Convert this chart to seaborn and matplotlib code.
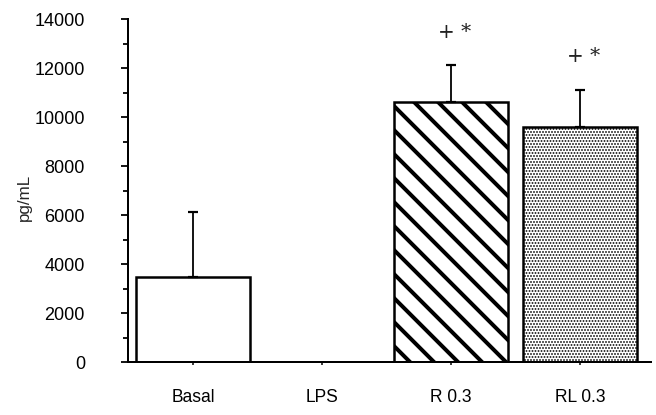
import numpy as np
import matplotlib
matplotlib.use("Agg")
import matplotlib.pyplot as plt
import seaborn as sns

# Cytokine levels per treatment group (mean and upper SEM)
groups = ["Basal", "LPS", "R 0.3", "RL 0.3"]
means = [3450, 0, 10600, 9580]
err_up = [2680, 0, 1510, 1520]
hatches = ["", "", "\\", "...."]
hatch_widths = [1.0, 1.0, 4.0, 1.2]
marks = ["", "", "+ *", "+ *"]
y_ticks = [0, 2000, 4000, 6000, 8000, 10000, 12000, 14000]

sns.set_theme(style="ticks")
plt.rcParams["font.family"] = ["Liberation Sans", "DejaVu Sans"]
plt.rcParams.update({
    "ytick.major.pad": 36, "ytick.major.size": 7, "ytick.minor.size": 5,
    "ytick.major.width": 1.8, "ytick.minor.width": 1.8,
    "xtick.major.pad": 24, "xtick.major.size": 3, "xtick.major.width": 1.5,
    "ytick.labelsize": 18, "xtick.labelsize": 17.5,
    "xtick.color": "black", "ytick.color": "black",
    "xtick.labelcolor": "black", "ytick.labelcolor": "black",
    "axes.linewidth": 2, "axes.edgecolor": "black",
})

DPI = 72
fig = plt.figure(figsize=(656 / DPI, 415 / DPI), dpi=DPI)
ax = fig.add_axes([0.1951, 0.1277, 0.7973, 0.8265])

sns.barplot(x=groups, y=means, order=groups, color="white", edgecolor="black",
            linewidth=2.5, width=0.88, errorbar=None, ax=ax, saturation=1)

for patch, h, hw in zip(ax.patches, hatches, hatch_widths):
    patch.set_facecolor("white")
    if h:
        patch.set_hatch(h)
        if hasattr(patch, "set_hatch_linewidth"):
            patch.set_hatch_linewidth(hw)

# upper error bars only where a value is reported
idx = [i for i, m in enumerate(means) if m > 0]
ax.errorbar(idx, [means[i] for i in idx],
            yerr=[[0] * len(idx), [err_up[i] for i in idx]],
            fmt="none", ecolor="black", elinewidth=1.8, capsize=5, capthick=2.2,
            zorder=1)

# significance marks above the error bars
for i, txt in enumerate(marks):
    if txt:
        ax.text(i + 0.03, means[i] + err_up[i] + 1350, txt, ha="center",
                va="center", fontsize=20, color="#222222",
                family=["DejaVu Serif"])

ax.set_ylim(0, 14000)
ax.set_xlim(-0.504, 3.55)
ax.set_yticks(y_ticks, [str(v) for v in y_ticks])
ax.set_yticks(np.arange(1000, 14000, 2000), minor=True)
ax.set_xlabel("")
ax.set_ylabel("pg/mL", fontsize=17)
ax.yaxis.set_label_coords(-0.1836, 0.481)

sns.despine(ax=ax)

fig.savefig("out.png", dpi=DPI, facecolor="white")
